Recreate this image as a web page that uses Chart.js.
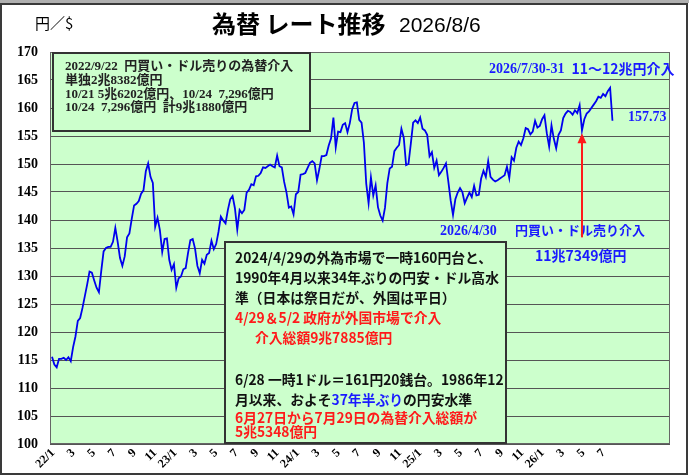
<!DOCTYPE html>
<html><head><meta charset="utf-8">
<script src="https://cdn.jsdelivr.net/npm/chart.js@4.4.1/dist/chart.umd.min.js"></script>
<style>html,body{margin:0;padding:0;background:#fff}#wrap{width:689px;height:476px}</style>
</head><body><div id="wrap"><canvas id="c" width="689" height="476"></canvas></div>
<script>
// Weekly (Friday) USD/JPY closes
const rates2022 = [
115.6,114.2,113.7,115.2, 115.2,115.4,115.0,115.5, 114.8,117.3,119.2,122.0,
122.5,124.3,126.4,128.5,130.8, 130.6,129.2,127.9,127.1, 130.9,134.4,135.0,135.2,
135.2,136.1,138.6,136.1,133.2, 131.8,133.5,136.9,137.6, 140.2,142.6,142.9,143.4,144.7,
145.3,148.7,150.1,147.7, 146.6,138.8,140.4,138.2, 134.3,136.6,136.7,132.9,131.1];
const rates2023 = [
132.1,127.9,129.6,129.9, 131.2,131.4,134.1,136.4, 136.6,134.9,131.8,130.5,132.9,
132.2,133.8,134.1,136.3, 134.8,135.7,137.9,140.6, 139.9,139.4,141.8,143.7,144.3,
142.1,138.3,141.8,141.2, 141.8,144.9,145.4,146.4, 146.2,147.8,147.9,148.4,149.4,
149.3,149.6,149.9,149.6, 149.4,151.5,149.6,149.4, 146.8,144.9,142.2,142.4,141.0];
const rates2024 = [
144.6,145.0,148.1,148.2, 148.4,149.3,150.2,150.5, 150.1,147.1,149.1,151.4,151.4,
151.6,153.3,154.6,158.3, 153.0,155.8,155.7,157.0,157.3, 155.7,157.3,159.8,160.9,
161.0,157.9,157.4,153.8, 146.5,143.0,147.6,144.4,146.2, 142.3,140.8,139.9,142.2,
146.6,149.2,149.5,152.3, 152.9,153.4,156.3,154.7,149.8, 150.0,153.6,157.4,157.8];
const rates2025 = [
157.3,158.3,156.3,156.0,155.2, 151.4,152.1,149.3,150.6, 148.0,148.6,149.3,150.1,
146.9,143.5,140.9,143.7, 144.9,145.7,145.0,143.0,144.0, 144.9,144.1,146.1,144.4,
144.5,147.4,148.8,147.7, 150.5,147.7,147.2,146.9,147.1, 147.4,147.7,148.0,149.5,
147.5,151.2,150.6,152.9,154.0, 153.4,154.6,156.4,156.2, 155.3,155.8,157.7,156.5];
const rates2026 = [
156.8,158.0,158.7,155.5,153.1, 156.9,154.5,152.8,155.2, 156.0,158.2,159.0,159.5,
159.3,158.8,159.6,159.1, 160.5,156.0,158.0,159.0,159.4, 160.0,160.6,161.2,162.0,
161.8,162.5,162.1,163.0,163.6, 157.73];

const tickMonths = [0,2,4,6,8,10,12,14,16,18,20,22,24,26,28,30,32,34,36,38,40,42,44,46,48,50,52,54];
const tickLabels = ['22/1','3','5','7','9','11','23/1','3','5','7','9','11','24/1','3','5','7','9','11',
                    '25/1','3','5','7','9','11','26/1','3','5','7'];
const lastValue = '157.73';
const interventionIdx = 226;           // week of 2026/5/8
const arrowTail = 136.9, arrowTip = 155.5;

const allRates = [...rates2022, ...rates2023, ...rates2024, ...rates2025, ...rates2026];
const firstFridayMonth = 6 / 30.44, weekMonths = 7 / 30.44;
const points = allRates.map((v, i) => ({ x: firstFridayMonth + i * weekMonths, y: v }));

const CJK = "'Noto Sans CJK JP'";
const SERIF = "'Liberation Serif', 'Noto Sans CJK JP'";
const BLUE = '#1a1aff', RED = '#ff1a1a', GREEN = '#ccffcc';

function txt(ctx, s, x, y, font, color, align) {
  ctx.font = font; ctx.fillStyle = color; ctx.textAlign = align || 'left'; ctx.textBaseline = 'middle';
  ctx.fillText(s, x, y);
}
function segs(ctx, parts, x, y) {
  ctx.textAlign = 'left'; ctx.textBaseline = 'middle';
  for (const [s, c, f] of parts) { ctx.font = f; ctx.fillStyle = c; ctx.fillText(s, x, y); x += ctx.measureText(s).width; }
}
function box(ctx, x1, y1, x2, y2) {
  ctx.fillStyle = GREEN; ctx.fillRect(x1, y1, x2 - x1, y2 - y1);
  ctx.strokeStyle = '#333'; ctx.lineWidth = 2; ctx.strokeRect(x1, y1, x2 - x1, y2 - y1);
}

const deco = {
  id: 'deco',
  beforeDraw(chart) {
    const { ctx, chartArea: a } = chart;
    ctx.save();
    ctx.fillStyle = '#fff'; ctx.fillRect(0, 0, chart.width, chart.height);
    ctx.fillStyle = GREEN; ctx.fillRect(a.left, a.top, a.right - a.left, a.bottom - a.top);
    ctx.restore();
  },
  afterDraw(chart) {
    const { ctx, chartArea: a, scales: { x, y } } = chart;
    ctx.save();
    // plot border
    ctx.strokeStyle = '#666'; ctx.lineWidth = 1;
    ctx.strokeRect(a.left + 0.5, a.top + 0.5, a.right - a.left - 1, a.bottom - a.top - 1);

    // x tick labels, rotated 45 degrees at the scale's tick positions
    ctx.font = "bold 12px 'Liberation Serif'"; ctx.fillStyle = '#000';
    ctx.textAlign = 'right'; ctx.textBaseline = 'middle';
    x.ticks.forEach((t, i) => {
      const px = x.getPixelForValue(t.value);
      ctx.save(); ctx.translate(px + 3, a.bottom + 7); ctx.rotate(-Math.PI / 4);
      ctx.fillText(tickLabels[i], 0, 0); ctx.restore();
    });

    // outer frame
    ctx.fillStyle = '#b0b0b0'; ctx.fillRect(0, 0, chart.width, 3);
    ctx.strokeStyle = '#3a3a3a'; ctx.lineWidth = 2; ctx.strokeRect(1, 4, 686, 470);

    // titles
    txt(ctx, '為替 レート推移', 212, 24, `bold 24px ${CJK}`, '#000');
    txt(ctx, '2026/8/6', 399, 26, "21px 'Liberation Sans'", '#000');
    txt(ctx, '円／$', 35, 23, `15px ${CJK}`, '#000');

    // top-left box
    box(ctx, 53, 53, 310, 131);
    const f1 = `bold 13px ${SERIF}`;
    txt(ctx, '2022/9/22  円買い・ドル売りの為替介入', 65, 67, f1, '#222');
    txt(ctx, '単独2兆8382億円', 65, 81, f1, '#222');
    txt(ctx, '10/21 5兆6202億円、10/24  7,296億円', 65, 95, f1, '#222');
    txt(ctx, '10/24  7,296億円  計9兆1880億円', 65, 108, f1, '#222');

    // center box
    box(ctx, 225, 242, 506, 443);
    const f2 = `bold 13.8px ${CJK}`;
    txt(ctx, '2024/4/29の外為市場で一時160円台と、', 235, 258, f2, '#111');
    txt(ctx, '1990年4月以来34年ぶりの円安・ドル高水', 235, 278, f2, '#111');
    txt(ctx, '準（日本は祭日だが、外国は平日）', 235, 298, f2, '#111');
    txt(ctx, '4/29＆5/2 政府が外国市場で介入', 235, 318, f2, RED);
    txt(ctx, '介入総額9兆7885億円', 255, 338, f2, RED);
    txt(ctx, '6/28 一時1ドル＝161円20銭台。1986年12', 235, 380, f2, '#111');
    segs(ctx, [['月以来、およそ', '#111', f2], ['37年半ぶり', BLUE, f2], ['の円安水準', '#111', f2]], 235, 400);
    txt(ctx, '6月27日から7月29日の為替介入総額が', 235, 418, f2, RED);
    txt(ctx, '5兆5348億円', 235, 432, f2, RED);

    // right annotations
    segs(ctx, [['2026/7/30-31  ', BLUE, `bold 14px ${SERIF}`], ['11～12兆円介入', BLUE, `bold 14px ${CJK}`]], 489, 69);
    txt(ctx, lastValue, 628, 117, `bold 14px ${SERIF}`, BLUE);
    txt(ctx, '2026/4/30', 440, 231, `bold 14px ${SERIF}`, BLUE);
    txt(ctx, '円買い・ドル売り介入', 515, 230, `bold 13px ${CJK}`, BLUE);
    txt(ctx, '11兆7349億円', 535, 256, `bold 14px ${CJK}`, BLUE);

    // arrow
    const ax = x.getPixelForValue(points[interventionIdx].x);
    const yT = y.getPixelForValue(arrowTip), yB = y.getPixelForValue(arrowTail);
    ctx.strokeStyle = RED; ctx.fillStyle = RED; ctx.lineWidth = 2;
    ctx.beginPath(); ctx.moveTo(ax, yB); ctx.lineTo(ax, yT + 8); ctx.stroke();
    ctx.beginPath(); ctx.moveTo(ax, yT); ctx.lineTo(ax - 4.5, yT + 10); ctx.lineTo(ax + 4.5, yT + 10); ctx.closePath(); ctx.fill();
    ctx.restore();
  }
};

new Chart(document.getElementById('c'), {
  type: 'line',
  data: { datasets: [{ data: points, borderColor: '#0000ee', borderWidth: 1.8, pointRadius: 0, tension: 0, fill: false }] },
  options: {
    responsive: false, animation: false,
    layout: { padding: { left: 0, right: 19, top: 52, bottom: 0 } },
    plugins: { legend: { display: false }, tooltip: { enabled: false } },
    scales: {
      x: {
        type: 'linear', min: 0, max: 60.8,
        afterBuildTicks: s => { s.ticks = tickMonths.map(v => ({ value: v })); },
        afterFit: s => { s.height = 32; },
        ticks: { display: false, autoSkip: false },
        grid: { display: false, drawTicks: false }, border: { display: false }
      },
      y: {
        min: 100, max: 170,
        afterFit: s => { s.width = 50; },
        ticks: { stepSize: 5, padding: 12, color: '#000',
                 font: { family: "'Liberation Serif'", weight: 'bold', size: 14 } },
        grid: { color: '#555', lineWidth: 1, drawTicks: false }, border: { display: false }
      }
    }
  },
  plugins: [deco]
});
</script>
</body></html>
